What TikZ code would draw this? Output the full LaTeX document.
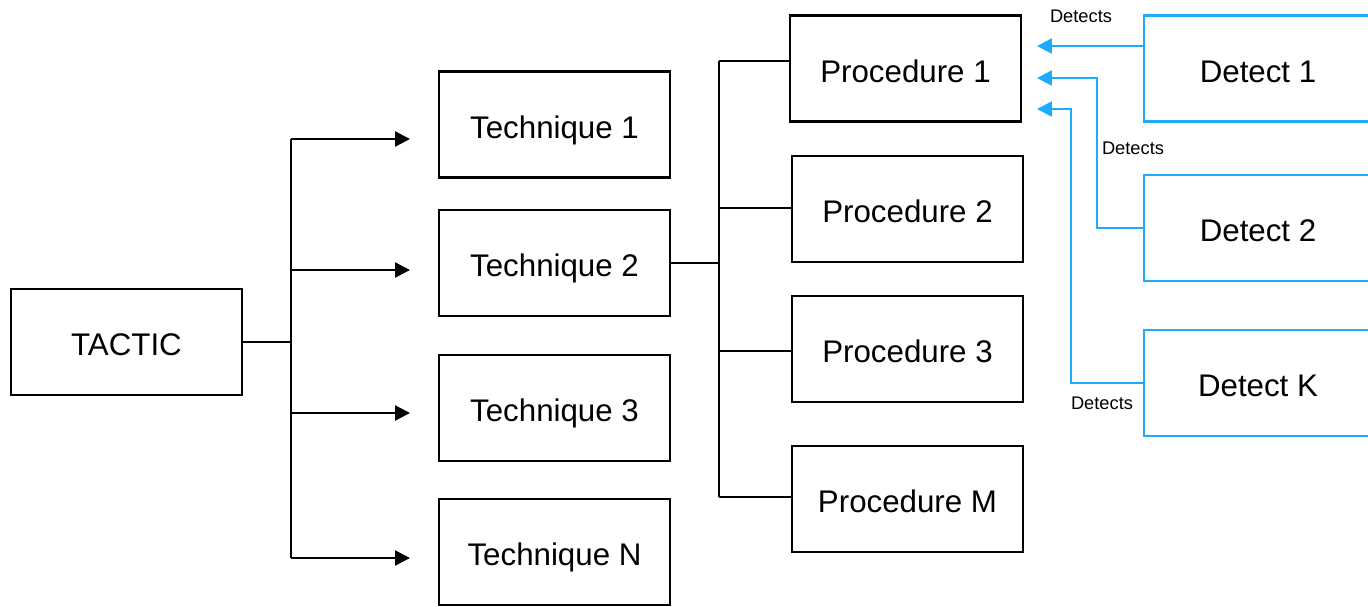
\documentclass[tikz,border=0pt]{standalone}
\usepackage{fontspec}
\setmainfont{Liberation Sans}
\usetikzlibrary{arrows.meta, positioning}
\definecolor{color1}{RGB}{30,172,250}
\tikzset{
    box/.style={draw, line width=1.2pt, minimum width=4.62cm, minimum height=2.12cm, inner sep=0pt, text height=15.5pt, text depth=0pt, font=\fontsize{17.8}{20}\selectfont},
    detbox/.style={box, draw=color1, minimum width=4.56cm},
    link/.style={line width=1.3pt},
    arr/.style={link, -{Triangle[length=8.5pt, width=8.5pt]}},
    detarr/.style={line width=1.5pt, color1, -{Triangle[length=8.5pt, width=8.5pt]}},
    lbl/.style={font=\fontsize{10.4}{12}\selectfont}
}
\begin{document}
\begin{tikzpicture}[x=0.02cm, y=-0.02cm]
                \useasboundingbox (0,0) rectangle (1368,606);

                \node[box] (tactic) at (126.5,342) {TACTIC};

                \node[box] (tech1) at (554.5,124.5) {Technique 1};
                \node[box] (tech2) at (554.5,263) {Technique 2};
                \node[box] (tech3) at (554.5,408) {Technique 3};
                \node[box] (techN) at (554.5,552) {Technique N};

                \node[box] (proc1) at (905.5,68.5) {Procedure 1};
                \node[box] (proc2) at (907.5,209) {Procedure 2};
                \node[box] (proc3) at (907.5,349) {Procedure 3};
                \node[box] (procM) at (907.5,499) {Procedure M};

                \node[detbox] (det1) at (1258,68.5) {Detect 1};
                \node[detbox] (det2) at (1258,228) {Detect 2};
                \node[detbox] (detK) at (1258,383) {Detect K};

                \coordinate (ttop) at (291,139);
                \coordinate (tbot) at (291,558);
                \draw[link] (ttop) -- (tbot);
                \draw[link] (tactic.east) -- (tactic.east -| ttop);
                \foreach \y/\n in {139/1, 270/2, 413/3, 558/N}
                {
                    \coordinate (tin\n) at (291,\y);
                    \coordinate (tend\n) at (410,\y);
                    \draw[arr] (tin\n) -- (tend\n);
                }

                \coordinate (ptop) at (719,61);
                \coordinate (pbot) at (719,497);
                \draw[link] (ptop) -- (pbot);
                \draw[link] (tech2.east) -- (tech2.east -| ptop);
                \foreach \y/\n in {61/1, 208/2, 351/3, 497/M}
                {
                    \coordinate (pin\n) at (719,\y);
                    \draw[link] (pin\n) -- (proc\n.west |- pin\n);
                }

                \coordinate (d1) at (1037,46);
                \coordinate (d2) at (1037,78);
                \coordinate (dK) at (1037,109);
                \draw[detarr] (det1.west |- d1) -- (d1);
                \draw[detarr] (det2.west) -- (1097,228) -- (1097,78) -- (d2);
                \draw[detarr] (detK.west) -- (1071,383) -- (1071,109) -- (dK);

                \node[lbl] (lbl1) at (1081,16) {Detects};
                \node[lbl] (lbl2) at (1133,148) {Detects};
                \node[lbl] (lblK) at (1102,403) {Detects};

            \end{tikzpicture}
\end{document}
